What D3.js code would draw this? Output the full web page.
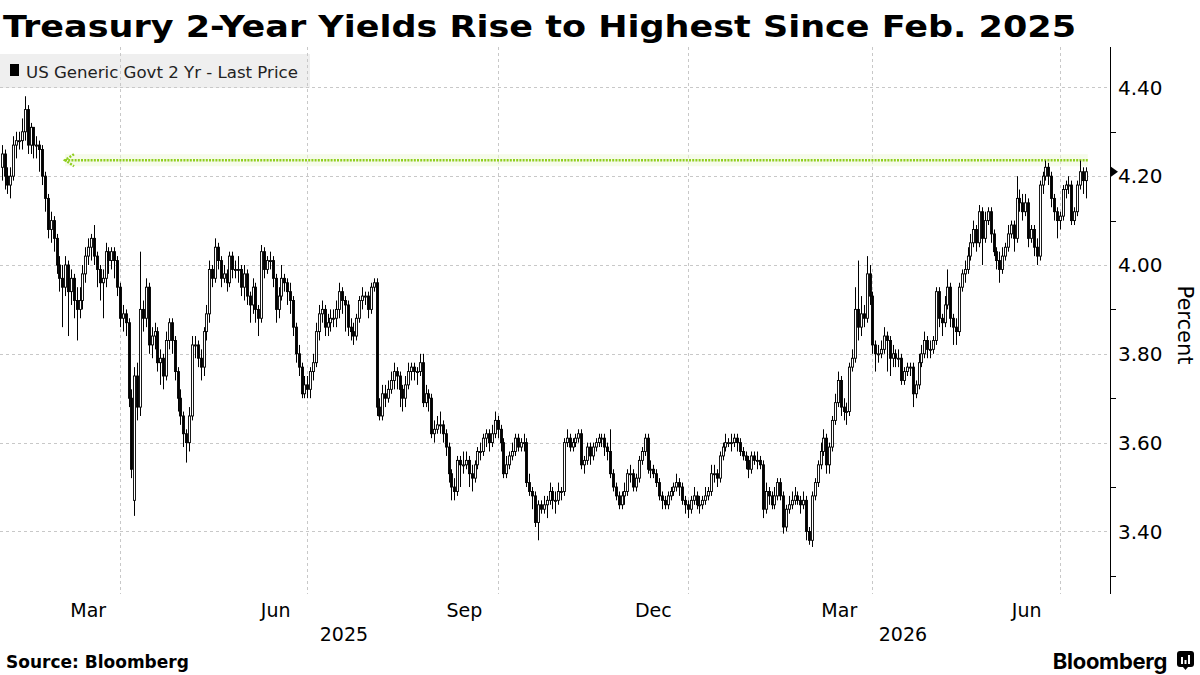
<!DOCTYPE html>
<html>
<head>
<meta charset="utf-8">
<script src="https://cdn.jsdelivr.net/npm/d3@7"></script>
<style>
  body { margin: 0; background: #fff; }
  svg { display: block; font-family: "DejaVu Sans", sans-serif; }
</style>
</head>
<body>
<div id="chart"></div>
<script>
// chart texts
const title = "Treasury 2-Year Yields Rise to Highest Since Feb. 2025";
const seriesName = "US Generic Govt 2 Yr - Last Price";

// one candle per weekday, starting here
const firstDay = "2025-02-03";

// daily open / high / low / close, percent
const open = [
  4.22,4.25,4.20,4.18,4.20,4.27,4.28,4.28,4.30,4.35, 4.27,4.31,4.27,4.27,4.26,4.20,4.15,4.08,4.10,4.06,
  4.00,3.97,3.95,4.00,3.94,3.97,3.92,3.90,3.92,3.98, 4.02,4.04,4.06,4.02,3.99,3.96,3.97,4.03,4.01,4.03,
  4.01,3.95,3.88,3.89,3.87,3.70,3.47,3.75,3.68,3.90, 3.88,3.95,3.82,3.84,3.85,3.78,3.79,3.75,3.83,3.87,
  3.83,3.76,3.70,3.66,3.62,3.60,3.66,3.82,3.82,3.79, 3.77,3.85,3.89,3.99,3.97,4.04,4.01,3.97,3.98,3.96,
  4.02,3.99,3.99,3.99,3.95,3.98,3.93,3.91,3.95,3.90, 3.88,4.03,3.99,4.01,4.01,3.97,3.90,3.93,3.97,3.96,
  3.94,3.92,3.86,3.80,3.77,3.71,3.73,3.72,3.76,3.78, 3.85,3.89,3.90,3.86,3.87,3.88,3.88,3.90,3.94,3.92,
  3.91,3.86,3.85,3.84,3.88,3.92,3.93,3.93,3.90,3.95, 3.96,3.68,3.66,3.71,3.70,3.72,3.74,3.76,3.75,3.72,
  3.70,3.73,3.76,3.77,3.76,3.76,3.78,3.69,3.71,3.70, 3.62,3.63,3.64,3.64,3.62,3.59,3.53,3.50,3.49,3.56,
  3.55,3.55,3.56,3.53,3.52,3.55,3.58,3.58,3.61,3.62, 3.60,3.62,3.65,3.63,3.60,3.53,3.55,3.57,3.58,3.61,
  3.59,3.60,3.60,3.51,3.49,3.48,3.42,3.46,3.45,3.46, 3.47,3.49,3.47,3.47,3.49,3.49,3.60,3.61,3.59,3.60,
  3.61,3.62,3.55,3.56,3.59,3.57,3.59,3.60,3.61,3.61, 3.59,3.58,3.53,3.50,3.48,3.46,3.48,3.49,3.53,3.53,
  3.50,3.52,3.56,3.58,3.61,3.54,3.54,3.53,3.51,3.48, 3.47,3.46,3.48,3.49,3.50,3.51,3.50,3.47,3.46,3.45,
  3.47,3.48,3.46,3.46,3.47,3.48,3.49,3.53,3.53,3.52, 3.57,3.59,3.60,3.60,3.60,3.61,3.60,3.58,3.57,3.56,
  3.54,3.57,3.56,3.56,3.55,3.45,3.49,3.48,3.46,3.48, 3.51,3.48,3.41,3.45,3.46,3.47,3.48,3.47,3.46,3.47,
  3.40,3.38,3.48,3.51,3.55,3.58,3.61,3.55,3.59,3.65, 3.69,3.74,3.68,3.67,3.67,3.77,3.79,3.90,3.86,3.89,
  3.88,3.98,3.93,3.82,3.80,3.80,3.81,3.84,3.83,3.79, 3.80,3.79,3.79,3.74,3.76,3.77,3.77,3.71,3.73,3.78,
  3.80,3.83,3.81,3.81,3.83,3.94,3.88,3.87,3.91,3.95, 3.88,3.86,3.85,3.95,3.98,3.99,4.02,4.05,4.08,4.05,
  4.12,4.06,4.10,4.12,4.07,4.03,4.01,3.99,4.02,4.04, 4.07,4.09,4.06,4.15,4.14,4.12,4.14,4.06,4.08,4.04,
  4.02,4.18,4.20,4.22,4.20,4.15,4.12,4.10,4.11,4.17, 4.18,4.18,4.10,4.12,4.18,4.21,4.19
];
const high = [
  4.27,4.26,4.22,4.22,4.29,4.30,4.30,4.33,4.38,4.36, 4.32,4.31,4.29,4.28,4.27,4.21,4.16,4.12,4.11,4.07,
  4.02,4.00,4.02,4.01,3.99,3.98,3.95,3.95,4.00,4.04, 4.06,4.07,4.09,4.03,4.00,3.99,4.05,4.04,4.04,4.04,
  4.02,3.96,3.91,3.90,3.88,3.72,3.77,3.78,4.03,3.92, 3.97,3.96,3.86,3.87,3.86,3.81,3.80,3.85,3.88,3.88,
  3.84,3.77,3.72,3.67,3.63,3.68,3.84,3.84,3.83,3.81, 3.86,3.91,4.01,4.00,4.06,4.05,4.02,4.00,3.99,4.03,
  4.03,4.01,4.02,4.00,4.00,3.99,3.94,3.97,3.96,3.91, 4.045,4.04,4.02,4.03,4.02,3.98,3.95,4.00,3.98,3.97,
  3.96,3.93,3.87,3.82,3.78,3.75,3.75,3.77,3.80,3.87, 3.91,3.92,3.91,3.89,3.90,3.90,3.92,3.96,3.95,3.93,
  3.92,3.88,3.87,3.89,3.93,3.95,3.94,3.94,3.96,3.97, 3.97,3.70,3.73,3.73,3.74,3.76,3.78,3.77,3.76,3.73,
  3.75,3.78,3.78,3.78,3.77,3.80,3.80,3.73,3.72,3.71, 3.65,3.66,3.67,3.65,3.63,3.60,3.54,3.52,3.57,3.57,
  3.58,3.58,3.57,3.55,3.56,3.59,3.60,3.62,3.63,3.63, 3.64,3.67,3.66,3.64,3.61,3.57,3.58,3.60,3.62,3.62,
  3.61,3.62,3.61,3.53,3.50,3.49,3.47,3.47,3.48,3.48, 3.51,3.50,3.49,3.51,3.50,3.61,3.63,3.62,3.61,3.62,
  3.63,3.63,3.57,3.60,3.60,3.60,3.61,3.62,3.62,3.62, 3.60,3.63,3.54,3.51,3.49,3.49,3.51,3.54,3.55,3.54,
  3.53,3.57,3.59,3.62,3.62,3.56,3.55,3.54,3.52,3.49, 3.48,3.49,3.50,3.51,3.53,3.52,3.51,3.48,3.47,3.48,
  3.50,3.49,3.48,3.48,3.50,3.50,3.55,3.55,3.54,3.58, 3.60,3.62,3.61,3.62,3.62,3.62,3.61,3.59,3.58,3.57,
  3.58,3.58,3.58,3.57,3.56,3.51,3.50,3.49,3.50,3.52, 3.52,3.49,3.46,3.48,3.49,3.50,3.49,3.48,3.49,3.48,
  3.41,3.49,3.52,3.56,3.60,3.63,3.62,3.60,3.66,3.71, 3.76,3.75,3.70,3.69,3.78,3.81,3.95,4.01,3.93,3.91,
  4.02,4.00,3.94,3.83,3.82,3.83,3.86,3.85,3.84,3.82, 3.81,3.81,3.80,3.77,3.78,3.78,3.78,3.74,3.80,3.82,
  3.85,3.84,3.83,3.84,3.95,3.95,3.89,3.93,3.99,3.96, 3.89,3.88,3.96,3.99,4.01,4.04,4.07,4.10,4.09,4.135,
  4.13,4.12,4.13,4.13,4.08,4.04,4.03,4.04,4.05,4.09, 4.10,4.10,4.20,4.17,4.16,4.16,4.15,4.09,4.09,4.06,
  4.19,4.21,4.235,4.23,4.21,4.16,4.13,4.12,4.18,4.19, 4.20,4.19,4.13,4.19,4.235,4.22,4.22
];
const low = [
  4.19,4.17,4.16,4.15,4.19,4.24,4.26,4.26,4.28,4.25, 4.25,4.24,4.24,4.21,4.18,4.12,4.06,4.05,4.03,3.98,
  3.94,3.86,3.93,3.84,3.91,3.88,3.83,3.88,3.90,3.96, 4.00,4.01,4.00,3.95,3.92,3.88,3.95,3.98,3.99,3.97,
  3.93,3.86,3.85,3.84,3.68,3.52,3.435,3.65,3.66,3.85, 3.86,3.80,3.79,3.81,3.76,3.73,3.72,3.74,3.81,3.80,
  3.74,3.67,3.64,3.59,3.555,3.58,3.65,3.79,3.77,3.74, 3.75,3.83,3.87,3.95,3.96,3.99,3.95,3.96,3.94,3.95,
  3.97,3.97,3.96,3.93,3.92,3.91,3.87,3.89,3.87,3.84, 3.87,3.97,3.98,3.99,3.95,3.87,3.88,3.92,3.94,3.91,
  3.89,3.84,3.78,3.75,3.70,3.70,3.70,3.70,3.74,3.77, 3.83,3.87,3.84,3.84,3.85,3.86,3.86,3.88,3.89,3.85,
  3.84,3.83,3.82,3.83,3.87,3.90,3.91,3.88,3.89,3.94, 3.66,3.65,3.65,3.68,3.69,3.71,3.72,3.72,3.68,3.67,
  3.68,3.72,3.74,3.74,3.73,3.75,3.68,3.68,3.67,3.61, 3.60,3.62,3.62,3.60,3.57,3.51,3.47,3.47,3.48,3.50,
  3.53,3.54,3.50,3.49,3.51,3.54,3.56,3.57,3.59,3.58, 3.59,3.61,3.61,3.58,3.52,3.52,3.54,3.56,3.57,3.58,
  3.58,3.58,3.50,3.48,3.45,3.41,3.38,3.44,3.44,3.43, 3.46,3.45,3.44,3.46,3.47,3.48,3.59,3.58,3.58,3.59,
  3.60,3.54,3.53,3.55,3.55,3.56,3.58,3.59,3.59,3.57, 3.56,3.52,3.49,3.47,3.45,3.45,3.46,3.48,3.51,3.49,
  3.49,3.51,3.55,3.57,3.53,3.52,3.52,3.50,3.47,3.45, 3.45,3.45,3.47,3.48,3.49,3.48,3.46,3.44,3.43,3.44,
  3.46,3.45,3.44,3.45,3.46,3.47,3.48,3.51,3.50,3.51, 3.56,3.58,3.59,3.58,3.59,3.58,3.57,3.56,3.54,3.52,
  3.53,3.55,3.54,3.54,3.43,3.44,3.46,3.45,3.45,3.47, 3.47,3.395,3.40,3.44,3.45,3.46,3.46,3.44,3.45,3.38,
  3.37,3.365,3.47,3.50,3.54,3.57,3.53,3.53,3.58,3.64, 3.68,3.66,3.65,3.64,3.66,3.76,3.78,3.83,3.84,3.86,
  3.87,3.91,3.80,3.76,3.78,3.79,3.80,3.76,3.75,3.77, 3.77,3.77,3.73,3.73,3.75,3.75,3.68,3.70,3.72,3.77,
  3.79,3.79,3.79,3.80,3.82,3.86,3.84,3.86,3.90,3.86, 3.82,3.82,3.84,3.94,3.96,3.98,4.01,4.04,4.03,4.04,
  4.00,4.05,4.09,4.05,4.02,3.99,3.96,3.98,4.01,4.03, 4.06,4.03,4.05,4.12,4.10,4.11,4.04,4.05,4.02,4.00,
  4.01,4.16,4.19,4.18,4.13,4.10,4.06,4.08,4.10,4.15, 4.16,4.09,4.09,4.11,4.17,4.16,4.15
];
const close = [
  4.25,4.20,4.18,4.20,4.27,4.28,4.28,4.30,4.35,4.27, 4.31,4.27,4.27,4.26,4.20,4.15,4.08,4.10,4.06,4.00,
  3.97,3.95,4.00,3.94,3.97,3.92,3.90,3.92,3.98,4.02, 4.04,4.06,4.02,3.99,3.96,3.97,4.03,4.01,4.03,4.01,
  3.95,3.88,3.89,3.87,3.70,3.54,3.75,3.68,3.90,3.88, 3.95,3.82,3.84,3.85,3.78,3.79,3.75,3.83,3.87,3.83,
  3.76,3.70,3.66,3.62,3.60,3.66,3.82,3.82,3.79,3.77, 3.85,3.89,3.99,3.97,4.04,4.01,3.97,3.98,3.96,4.02,
  3.99,3.99,3.99,3.95,3.98,3.93,3.91,3.95,3.90,3.88, 4.03,3.99,4.01,4.01,3.97,3.90,3.93,3.97,3.96,3.94,
  3.92,3.86,3.80,3.77,3.71,3.73,3.72,3.76,3.78,3.85, 3.89,3.90,3.86,3.87,3.88,3.88,3.90,3.94,3.92,3.91,
  3.86,3.85,3.84,3.88,3.92,3.93,3.93,3.90,3.95,3.96, 3.68,3.66,3.71,3.70,3.72,3.74,3.76,3.75,3.72,3.70,
  3.73,3.76,3.77,3.76,3.76,3.78,3.69,3.71,3.70,3.62, 3.63,3.64,3.64,3.62,3.59,3.53,3.50,3.49,3.56,3.55,
  3.55,3.56,3.53,3.52,3.55,3.58,3.58,3.61,3.62,3.60, 3.62,3.65,3.63,3.60,3.53,3.55,3.57,3.58,3.61,3.59,
  3.60,3.60,3.51,3.49,3.48,3.42,3.46,3.45,3.46,3.47, 3.49,3.47,3.47,3.49,3.49,3.60,3.61,3.59,3.60,3.61,
  3.62,3.55,3.56,3.59,3.57,3.59,3.60,3.61,3.61,3.59, 3.58,3.53,3.50,3.48,3.46,3.48,3.49,3.53,3.53,3.50,
  3.52,3.56,3.58,3.61,3.54,3.54,3.53,3.51,3.48,3.47, 3.46,3.48,3.49,3.50,3.51,3.50,3.47,3.46,3.45,3.47,
  3.48,3.46,3.46,3.47,3.48,3.49,3.53,3.53,3.52,3.57, 3.59,3.60,3.60,3.60,3.61,3.60,3.58,3.57,3.56,3.54,
  3.57,3.56,3.56,3.55,3.45,3.49,3.48,3.46,3.48,3.51, 3.48,3.41,3.45,3.46,3.47,3.48,3.47,3.46,3.47,3.40,
  3.38,3.48,3.51,3.55,3.58,3.61,3.55,3.59,3.65,3.69, 3.74,3.68,3.67,3.67,3.77,3.79,3.90,3.86,3.89,3.88,
  3.98,3.93,3.82,3.80,3.80,3.81,3.84,3.83,3.79,3.80, 3.79,3.79,3.74,3.76,3.77,3.77,3.71,3.73,3.78,3.80,
  3.83,3.81,3.81,3.83,3.94,3.88,3.87,3.91,3.95,3.88, 3.86,3.85,3.95,3.98,3.99,4.02,4.05,4.08,4.05,4.12,
  4.06,4.10,4.12,4.07,4.03,4.01,3.99,4.02,4.04,4.07, 4.09,4.06,4.15,4.14,4.12,4.14,4.06,4.08,4.04,4.02,
  4.18,4.20,4.22,4.20,4.15,4.12,4.10,4.11,4.17,4.18, 4.18,4.10,4.12,4.18,4.21,4.19,4.21
];

// level of the highlighted high, percent
const highLevel = 4.236;

// axis labels
const yTicks = [3.40, 3.60, 3.80, 4.00, 4.20, 4.40];
const monthLabels = ["Mar", "Jun", "Sep", "Dec", "Mar", "Jun"];
const monthStarts = ["2025-03-01", "2025-06-01", "2025-09-01", "2025-12-01", "2026-03-01", "2026-06-01"];
const gridDates = ["2025-04-01", "2025-07-01", "2025-10-01", "2026-01-01", "2026-04-01", "2026-07-01"];
const yearLabels = ["2025", "2026"];

const W = 1200, H = 675;
const plot = { left: 0, right: 1110, top: 47, bottom: 594 };

const svg = d3.select("#chart").append("svg")
    .attr("width", W)
    .attr("height", H);

// weekday calendar for the candles
const parse = d3.utcParse("%Y-%m-%d");
const days = [];
let day = parse(firstDay);
while (days.length < close.length) {
    const wd = day.getUTCDay();
    if (wd !== 0 && wd !== 6) days.push(day);
    day = d3.utcDay.offset(day, 1);
}
const idxOf = s => d3.bisectLeft(days, parse(s));

const data = close.map((c, i) => ({ i, o: open[i], h: high[i], l: low[i], c }));

// scales
const x = d3.scaleLinear()
    .domain([-0.6, 384.4])
    .range([plot.left, plot.right]);

const y = d3.scaleLinear()
    .domain([3.26, 4.49])
    .range([593.6, 47.4]);

// title
svg.append("text")
    .attr("x", 3)
    .attr("y", 37)
    .attr("font-size", 30)
    .attr("font-weight", "bold")
    .attr("textLength", 1073)
    .attr("lengthAdjust", "spacingAndGlyphs")
    .attr("fill", "#000")
    .text(title);

// legend box (under the grid)
const legend = svg.append("g");
legend.append("rect")
    .attr("x", 0)
    .attr("y", 54)
    .attr("width", 310)
    .attr("height", 34)
    .attr("fill", "#efefef");
legend.append("rect")
    .attr("x", 10)
    .attr("y", 64)
    .attr("width", 9)
    .attr("height", 12)
    .attr("fill", "#000");
legend.append("text")
    .attr("x", 26)
    .attr("y", 78)
    .attr("font-size", 16.6)
    .attr("fill", "#222")
    .text(seriesName);

// horizontal grid
svg.append("g")
    .selectAll("line")
    .data(yTicks)
    .join("line")
        .attr("x1", plot.left)
        .attr("x2", plot.right)
        .attr("y1", d => Math.round(y(d)) + 0.5)
        .attr("y2", d => Math.round(y(d)) + 0.5)
        .attr("stroke", "#c8c8c8")
        .attr("stroke-dasharray", "3,3");

// vertical grid at quarter starts
svg.append("g")
    .selectAll("line")
    .data(gridDates)
    .join("line")
        .attr("x1", d => Math.round(x(idxOf(d))) + 0.5)
        .attr("x2", d => Math.round(x(idxOf(d))) + 0.5)
        .attr("y1", plot.top)
        .attr("y2", plot.bottom)
        .attr("stroke", "#c8c8c8")
        .attr("stroke-dasharray", "3,3");

// highlighted level: faint glow + dotted green line with arrow
const yl = y(highLevel);
const xl0 = 65, xl1 = x(close.length - 1) + 2;
svg.append("rect")
    .attr("x", xl0)
    .attr("y", yl - 6)
    .attr("width", xl1 - xl0)
    .attr("height", 12)
    .attr("fill", "#eef7d8")
    .attr("opacity", 0.5);
svg.append("line")
    .attr("x1", xl0)
    .attr("x2", xl1)
    .attr("y1", yl)
    .attr("y2", yl)
    .attr("stroke", "#8fce1e")
    .attr("stroke-width", 2.4)
    .attr("stroke-dasharray", "2,1.2");
svg.append("path")
    .attr("d", `M${xl0 + 9},${yl - 6} L${xl0},${yl} L${xl0 + 9},${yl + 6}`)
    .attr("fill", "none")
    .attr("stroke", "#8fce1e")
    .attr("stroke-width", 2.4)
    .attr("stroke-dasharray", "2,1.4");

// candles
const candles = svg.append("g")
    .selectAll("g")
    .data(data)
    .join("g");

candles.append("line")
    .attr("x1", d => Math.round(x(d.i)) + 0.5)
    .attr("x2", d => Math.round(x(d.i)) + 0.5)
    .attr("y1", d => y(d.h))
    .attr("y2", d => y(d.l))
    .attr("stroke", "#000")
    .attr("stroke-width", 1);

candles.append("rect")
    .attr("x", d => Math.round(x(d.i)) - 0.5)
    .attr("y", d => y(Math.max(d.o, d.c)))
    .attr("width", 2)
    .attr("height", d => Math.max(1, Math.abs(y(d.o) - y(d.c))))
    .attr("fill", d => d.c >= d.o ? "#fff" : "#000")
    .attr("stroke", "#000")
    .attr("stroke-width", 0.9);

// right axis
const axis = svg.append("g");
axis.append("line")
    .attr("x1", plot.right + 0.5)
    .attr("x2", plot.right + 0.5)
    .attr("y1", plot.top)
    .attr("y2", plot.bottom)
    .attr("stroke", "#000");

axis.selectAll(".minor")
    .data(d3.range(3.3, 4.45, 0.2))
    .join("line")
        .attr("x1", plot.right)
        .attr("x2", plot.right + 6)
        .attr("y1", d => Math.round(y(d)) + 0.5)
        .attr("y2", d => Math.round(y(d)) + 0.5)
        .attr("stroke", "#000");

axis.selectAll(".lbl")
    .data(yTicks)
    .join("text")
        .attr("x", plot.right + 8)
        .attr("y", d => y(d))
        .attr("dy", "0.36em")
        .attr("font-size", 20)
        .attr("fill", "#000")
        .text(d => d.toFixed(2));

// last price marker
const yLast = y(close[close.length - 1]);
axis.append("path")
    .attr("d", `M${plot.right + 1},${yLast - 5} L${plot.right + 8},${yLast} L${plot.right + 1},${yLast + 5} Z`)
    .attr("fill", "#000");

svg.append("text")
    .attr("transform", "translate(1178,325) rotate(90)")
    .attr("text-anchor", "middle")
    .attr("font-size", 21)
    .attr("fill", "#000")
    .text("Percent");

// month labels centred in their month, year labels centred in their span
svg.append("g")
    .selectAll("text")
    .data(monthLabels)
    .join("text")
        .attr("x", (d, k) => {
            const a = idxOf(monthStarts[k]);
            const next = d3.utcMonth.offset(parse(monthStarts[k]), 1);
            const b = d3.bisectLeft(days, next);
            return x((a + b - 1) / 2);
        })
        .attr("y", 617)
        .attr("text-anchor", "middle")
        .attr("font-size", 19)
        .attr("fill", "#000")
        .text(d => d);

const jan = idxOf("2026-01-01");
const yearCenters = [(plot.left + x(jan)) / 2, (x(jan) + plot.right) / 2 + 4];
svg.append("g")
    .selectAll("text")
    .data(yearLabels)
    .join("text")
        .attr("x", (d, k) => yearCenters[k])
        .attr("y", 641)
        .attr("text-anchor", "middle")
        .attr("font-size", 19)
        .attr("fill", "#000")
        .text(d => d);

// footer
svg.append("text")
    .attr("x", 6)
    .attr("y", 668)
    .attr("font-size", 17)
    .attr("font-weight", "bold")
    .attr("fill", "#000")
    .text("Source: Bloomberg");

svg.append("text")
    .attr("x", 1167)
    .attr("y", 669)
    .attr("text-anchor", "end")
    .attr("font-family", "Inter, 'DejaVu Sans', sans-serif")
    .attr("font-size", 22)
    .attr("font-weight", "bold")
    .attr("letter-spacing", -0.3)
    .attr("fill", "#000")
    .text("Bloomberg");

const logo = svg.append("g").attr("transform", "translate(1177,651)");
logo.append("rect")
    .attr("width", 17)
    .attr("height", 16)
    .attr("rx", 3)
    .attr("fill", "#000");
logo.append("path")
    .attr("d", "M6,16 L8.5,19 L11,16 Z")
    .attr("fill", "#000");
logo.selectAll(".bar")
    .data([[4, 7], [7.5, 4], [11, 9]])
    .join("rect")
        .attr("x", d => d[0])
        .attr("y", d => 13 - d[1])
        .attr("width", 2)
        .attr("height", d => d[1])
        .attr("fill", "#fff");
</script>
</body>
</html>
